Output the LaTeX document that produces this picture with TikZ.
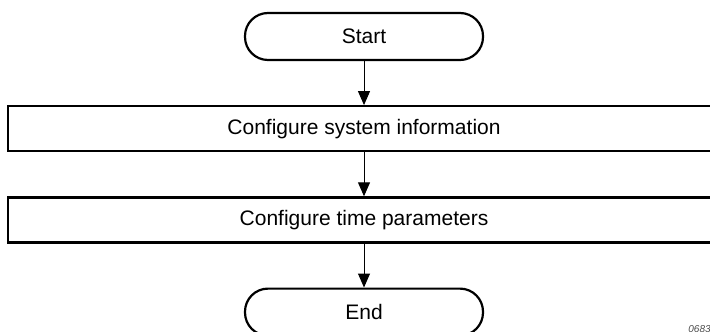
\documentclass[tikz,border=0pt]{standalone}
\usepackage{fontspec}
\setmainfont{Liberation Sans}
\usetikzlibrary{positioning, arrows.meta}

\begin{document}
\begin{tikzpicture}[x=0.5pt,y=-0.5pt,>={Triangle[length=7pt,width=6pt]},node distance=22pt,
    terminal/.style={draw, line width=1.1pt, rounded corners=11.5pt, minimum width=119pt, minimum height=23.5pt, font=\fontsize{10.5}{12}\selectfont},
    stepbox/.style={draw, line width=1.1pt, minimum width=356pt, minimum height=22.5pt, font=\fontsize{10.5}{12}\selectfont}]
                        \useasboundingbox (0,0) rectangle (710,331);
                        \clip (0,0) rectangle (710,331);
                        \node[terminal]                          (start)   at (364,36.5)       {Start};
                        \node[stepbox]                           (sysinfo) [below=of start]    {Configure system information};
                        \node[stepbox]                           (timepar) [below=of sysinfo]  {Configure time parameters};
                        \node[terminal]                          (end)     [below=of timepar]  {End};
                        \path[->,line width=0.5pt] (start)   edge node {} (sysinfo);
                        \path[->,line width=0.5pt] (sysinfo) edge node {} (timepar);
                        \path[->,line width=0.5pt] (timepar) edge node {} (end);
                        \node[anchor=north west, inner sep=0pt, text=black!70, font=\fontsize{5}{5}\selectfont\itshape] (figid) at (688,325) {0683};
                    \end{tikzpicture}
\end{document}
